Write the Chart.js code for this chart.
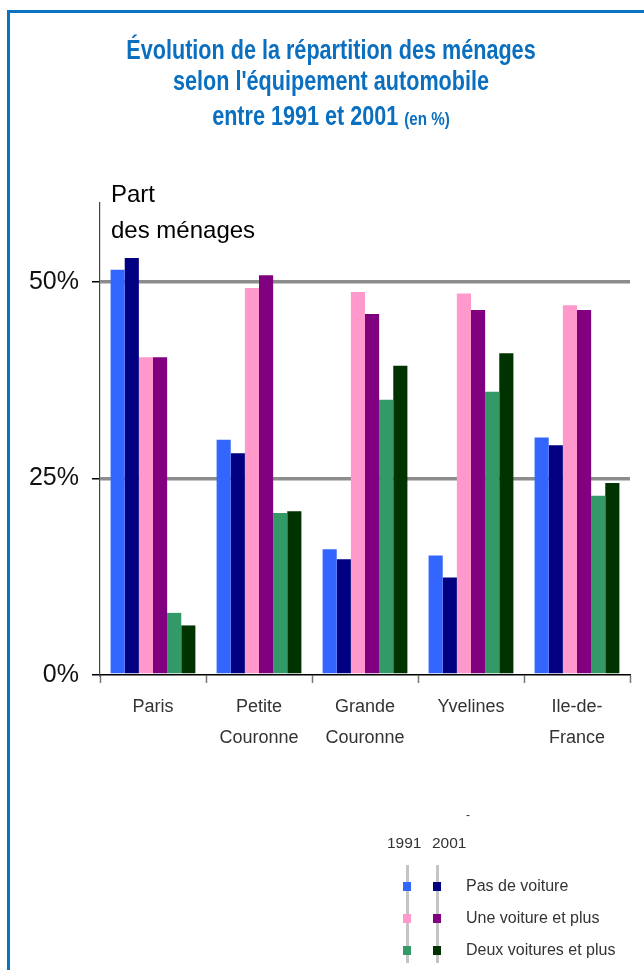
<!DOCTYPE html>
<html>
<head>
<meta charset="utf-8">
<script src="https://cdn.jsdelivr.net/npm/chart.js@4"></script>
<style>
  html, body { margin: 0; padding: 0; background: #fff; }
  #wrap { position: relative; width: 644px; height: 970px; overflow: hidden; font-family: "Liberation Sans", Arial, sans-serif; }
  #chartBox { position: absolute; left: 0; top: 0; width: 644px; height: 970px; }
  .frameL { position: absolute; left: 7px; top: 10px; width: 3px; height: 960px; background: #0a72c2; }
  .frameT { position: absolute; left: 7px; top: 10px; width: 637px; height: 3px; background: #0a72c2; }
  .tline { position: absolute; left: 331px; white-space: nowrap; color: #0b6fc0; font-weight: bold; font-size: 27px; line-height: 30px;
           transform: translateX(-50%) scaleX(0.8); transform-origin: center; }
  .tline small { font-size: 19px; }
  .ytitle { position: absolute; left: 111px; font-size: 24px; color: #000; white-space: nowrap; line-height: 26px; }
  .leg { position: absolute; font-size: 16px; color: #333; white-space: nowrap; line-height: 18px; }
  .vline { position: absolute; width: 3px; background: #c4c4c4; }
  .sq { position: absolute; width: 8px; height: 9px; }
</style>
</head>
<body>
<div id="wrap">
  <div id="chartBox"><canvas id="c"></canvas></div>
  <div class="frameL"></div>
  <div class="frameT"></div>
  <div class="tline" style="top:35px">Évolution de la répartition des ménages</div>
  <div class="tline" style="top:66px">selon l'équipement automobile</div>
  <div class="tline" style="top:101px">entre 1991 et 2001 <small>(en %)</small></div>
  <div class="ytitle" style="top:181px">Part</div>
  <div class="ytitle" style="top:217px">des ménages</div>
  <div id="legend"></div>
</div>
<script>
const categories = ['Paris', ['Petite', 'Couronne'], ['Grande', 'Couronne'], 'Yvelines', ['Ile-de-', 'France']];
const years = ['1991', '2001'];
const groups = ['Pas de voiture', 'Une voiture et plus', 'Deux voitures et plus'];
const sans1991 = [51.5, 29.9, 16.0, 15.2, 30.2];
const sans2001 = [53.0, 28.2, 14.7, 12.4, 29.2];
const une1991 = [40.4, 49.2, 48.7, 48.5, 47.0];
const une2001 = [40.4, 50.8, 45.9, 46.4, 46.4];
const deux1991 = [7.9, 20.6, 35.0, 36.0, 22.8];
const deux2001 = [6.3, 20.8, 39.3, 40.9, 24.4];
const yTicks = [0, 25, 50];
const colors = ['#3366ff', '#000080', '#ff99cc', '#800080', '#339966', '#003300'];

const series = [sans1991, sans2001, une1991, une2001, deux1991, deux2001];
const datasets = series.map((d, i) => ({
  label: groups[Math.floor(i / 2)] + ' ' + years[i % 2],
  data: d,
  backgroundColor: colors[i],
  borderWidth: 0,
  categoryPercentage: 0.8,
  barPercentage: 1.0
}));

new Chart(document.getElementById('c'), {
  type: 'bar',
  data: { labels: categories, datasets },
  options: {
    responsive: true,
    maintainAspectRatio: false,
    animation: false,
    layout: { padding: { left: 0, right: 14, top: 203, bottom: 0 } },
    plugins: { legend: { display: false }, tooltip: { enabled: false }, title: { display: false } },
    scales: {
      x: {
        afterFit: s => { s.height = 295; },
        grid: { drawOnChartArea: false, offset: true, tickLength: 8, tickColor: '#777', tickWidth: 1.5 },
        border: { display: true, color: '#000', width: 1.5 },
        ticks: { color: '#333', font: { family: 'Liberation Sans', size: 18, lineHeight: '31px' }, padding: 9, maxRotation: 0, autoSkip: false }
      },
      y: {
        min: 0, max: 60,
        afterFit: s => { s.width = 100; },
        afterBuildTicks: s => { s.ticks = yTicks.map(v => ({ value: v })); },
        grid: {
          color: ctx => (ctx.tick && ctx.tick.value === 0) ? 'rgba(0,0,0,0)' : '#8c8c8c',
          lineWidth: 3.5,
          tickColor: '#000',
          tickLength: 8,
          tickWidth: 1.5
        },
        border: { display: true, color: '#444', width: 1.2 },
        ticks: { color: '#111', font: { family: 'Liberation Sans', size: 25 }, padding: 13, callback: v => v + '%' }
      }
    }
  }
});

// Legend built from the dataset colours
const leg = document.getElementById('legend');
let html = '';
html += '<div class="leg" style="left:466px;top:806px;font-size:12px">-</div>';
html += '<div class="leg" style="left:387px;top:834px;font-size:15.5px">' + years[0] + '</div>';
html += '<div class="leg" style="left:432px;top:834px;font-size:15.5px">' + years[1] + '</div>';
html += '<div class="vline" style="left:406px;top:865px;height:98px"></div>';
html += '<div class="vline" style="left:436px;top:865px;height:98px"></div>';
const rowY = [886, 918, 950];
groups.forEach((g, r) => {
  html += '<div class="sq" style="left:403px;top:' + (rowY[r] - 4.5) + 'px;background:' + colors[r * 2] + '"></div>';
  html += '<div class="sq" style="left:433px;top:' + (rowY[r] - 4.5) + 'px;background:' + colors[r * 2 + 1] + '"></div>';
  html += '<div class="leg" style="left:466px;top:' + (rowY[r] - 9) + 'px">' + g + '</div>';
});
leg.innerHTML = html;
</script>
</body>
</html>
